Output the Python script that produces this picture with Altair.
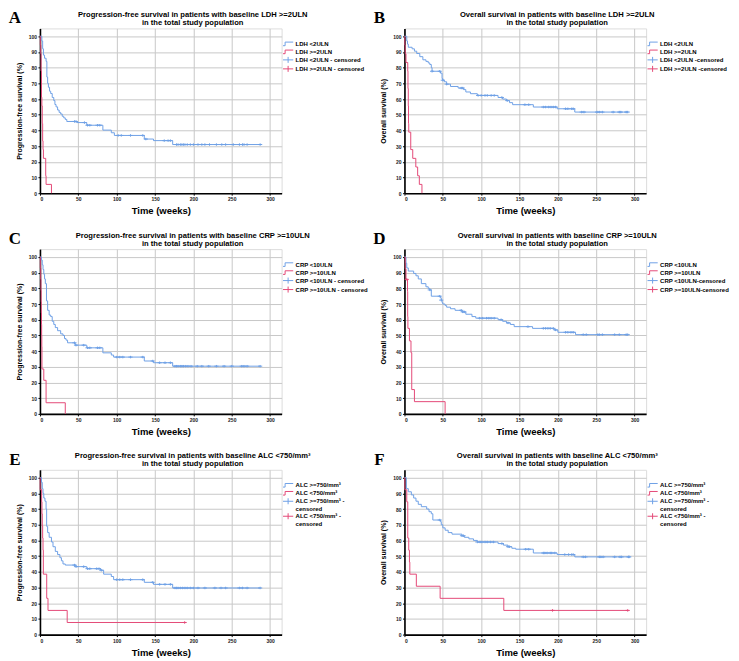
import altair as alt
import pandas as pd

BLUE = "#6FA1E6"
RED = "#E44A78"
STEP = "M-1.7,0.6H-1V-0.6H1.7"
CROSS = "M-1.7,0H1.7M0,-1V1"

# ---------------- Panel A : PFS, LDH ----------------
A_names = ["LDH <2ULN", "LDH >=2ULN", "LDH <2ULN - censored", "LDH >=2ULN - censored"]
A_blue_t = [0, 2.5, 3.5, 4.5, 6, 8, 9, 10, 11, 12.5, 14, 16, 18, 19.5, 21, 23, 25, 27, 29, 31, 33, 35, 48, 61, 82, 93, 97, 136, 148, 173, 287]
A_blue_s = [100, 97, 92, 88, 86, 84, 74, 70, 67.5, 65, 63.5, 61, 59, 56.5, 55, 53, 51.5, 50.5, 49, 48, 47, 45.7, 45, 43.3, 40.2, 38.5, 36.8, 34.5, 33.5, 31, 31]
A_blue_c = [45, 47, 58, 62, 65, 75, 78, 102, 106, 118, 134, 138, 162, 167, 170, 178, 180, 183, 185, 187, 189, 192, 196, 200, 206, 211, 215, 221, 230, 237, 242, 252, 260, 264, 266, 270, 287]
A_red_t = [0, 0.5, 1, 1.5, 2, 2.5, 3, 3.5, 4, 4.5, 7.5, 8, 15]
A_red_s = [100, 94.4, 88.9, 77.8, 61.1, 55.6, 44.4, 33.3, 27.8, 22.2, 11.1, 5.6, 0]
A_red_c = []

# ---------------- Panel B : OS, LDH ----------------
B_names = ["LDH <2ULN", "LDH >=2ULN", "LDH <2ULN -censored", "LDH >=2ULN -censored"]
B_blue_t = [0, 3, 4, 5, 10, 13, 16, 20, 24, 28, 31, 33, 35, 36, 47, 49, 50, 52, 55, 60, 70, 77, 80, 86, 95, 122, 128, 133, 137, 141, 168, 199, 222, 291]
B_blue_s = [100, 97, 95, 93, 92, 90.5, 89, 87, 85, 84, 83, 82, 80, 77.7, 76.5, 73, 72, 71, 69.5, 68, 67, 66, 64.5, 63.4, 62.3, 61, 60, 59, 57.7, 56.4, 54.9, 53.8, 51.7, 51.7]
B_blue_c = [36, 46, 50, 55, 74, 76, 96, 100, 105, 108, 113, 117, 127, 134, 157, 162, 181, 184, 188, 191, 194, 197, 210, 213, 218, 220, 231, 234, 251, 254, 258, 272, 280, 282, 289, 291]
B_red_t = [0, 0.5, 1, 2, 4.3, 4.6, 5, 5.3, 5.6, 8.2, 10.8, 14.8, 17.2, 19.4, 22.8]
B_red_s = [100, 94.4, 88.9, 83.3, 77.8, 66.7, 55.6, 44.4, 38.9, 27.8, 22.2, 16.7, 11.1, 5.6, 0]
B_red_c = []

# ---------------- Panel C : PFS, CRP ----------------
C_names = ["CRP <10ULN", "CRP >=10ULN", "CRP <10ULN - censored", "CRP >=10ULN - censored"]
C_blue_t = [0, 2, 3, 4, 5, 6, 7, 8.5, 10, 12, 14, 16, 18, 20, 23, 27, 30, 32, 34, 36, 46, 61, 82, 93, 96, 136, 148, 173, 287]
C_blue_s = [100, 98, 95, 92, 89, 86, 83, 72, 66, 63, 62, 59, 57, 55, 53, 51, 50, 48, 47, 45.3, 43.8, 42.1, 38.9, 37.5, 36.2, 33.7, 32.6, 30.4, 30.4]
C_blue_c = [45, 47, 57, 62, 65, 75, 78, 100, 104, 108, 118, 134, 147, 156, 163, 170, 176, 178, 180, 183, 185, 187, 190, 193, 197, 205, 211, 220, 230, 240, 250, 263, 266, 270, 287]
C_red_t = [0, 0.5, 1, 1.3, 1.6, 1.8, 2, 2.2, 2.4, 2.6, 5, 8, 33]
C_red_s = [100, 92.9, 85.7, 78.6, 71.4, 64.3, 57.1, 50, 42.9, 28.6, 21.4, 7.1, 0]
C_red_c = []

# ---------------- Panel D : OS, CRP ----------------
D_names = ["CRP <10ULN", "CRP >=10ULN", "CRP <10ULN-censored", "CRP >=10ULN-censored"]
D_blue_t = [0, 2, 3, 5, 12, 15, 18, 22, 28, 31, 33, 35, 47, 48, 49, 50, 53, 55, 60, 66, 75, 80, 88, 93, 122, 128, 133, 138, 143, 167, 195, 200, 223, 291]
D_blue_s = [100, 96, 93, 91, 89.5, 88, 86, 83, 81, 80, 79, 75, 74, 72.5, 71, 70, 69, 68, 67, 66, 65, 63.5, 62, 61, 60, 59, 58, 57, 55.6, 54.5, 53.5, 52, 50.5, 50.5]
D_blue_c = [33, 46, 48, 74, 76, 78, 98, 102, 107, 110, 113, 117, 126, 135, 161, 181, 184, 187, 190, 194, 197, 210, 213, 217, 220, 233, 237, 252, 254, 258, 274, 280, 289, 291]
D_red_t = [0, 1, 2, 4, 4.2, 4.5, 6.5, 8.5, 9.5, 13, 53]
D_red_s = [100, 92.5, 85.7, 78, 62, 54.5, 46.5, 39, 15.5, 7.8, 0]
D_red_c = [3]

# ---------------- Panel E : PFS, ALC ----------------
E_names = ["ALC >=750/mm³", "ALC <750/mm³", "ALC >=750/mm³ -|censored", "ALC <750/mm³ -|censored"]
E_blue_t = [0, 2, 3, 4, 5, 6.5, 8, 8.7, 10, 12, 15, 17, 20, 23, 26, 28, 30, 33, 47, 61, 79, 83, 93, 96, 136, 148, 173, 287]
E_blue_s = [100, 97, 93, 90, 87, 85, 80, 69, 65, 62, 59, 56, 53, 51, 49, 47, 45, 44.3, 43.3, 42, 41, 38.5, 37, 35, 33.3, 32, 29.7, 29.7]
E_blue_c = [45, 47, 57, 62, 65, 74, 77, 80, 100, 104, 108, 118, 134, 147, 156, 163, 170, 176, 178, 180, 183, 186, 189, 192, 196, 200, 206, 215, 228, 236, 242, 260, 264, 270, 287]
E_red_t = [0, 0.3, 2.2, 2.6, 3, 3.5, 4, 4.4, 8.8, 10.5, 35.5, 188.6]
E_red_s = [100, 92.3, 84.6, 76.9, 69.2, 61.5, 53.8, 38.5, 23.1, 15.4, 7.7, 7.7]
E_red_c = [188.6]

# ---------------- Panel F : OS, ALC ----------------
F_names = ["ALC >=750/mm³", "ALC <750/mm³", "ALC >=750/mm³ -|censored", "ALC <750/mm³ -|censored"]
F_blue_t = [0, 2.5, 5, 9, 12, 15, 18, 22, 29, 32, 35, 37, 47, 48, 50, 53, 57, 62, 75, 78, 84, 90, 95, 122, 129, 135, 140, 145, 168, 199, 222, 293]
F_blue_s = [100, 93, 91, 89, 87, 85, 83, 81.5, 80, 78.3, 77, 73, 72, 70, 68, 66.5, 65, 64, 63, 62, 61, 60, 59, 58, 57, 56, 55, 54.4, 52, 51, 49.5, 49.5]
F_blue_c = [46, 75, 77, 95, 98.5, 101, 105, 108, 112, 116, 127, 135, 137, 158, 162, 181, 183, 186, 190, 192, 196, 209, 214, 218, 220, 233, 236, 254, 256, 259, 274, 281, 283, 292, 293]
F_red_t = [0, 0.5, 3, 4.3, 5.6, 6.5, 7, 15.5, 46.5, 129.5, 291]
F_red_s = [100, 92.3, 84.6, 61.5, 53.8, 46.2, 38.5, 30.8, 23.1, 15.4, 15.4]
F_red_c = [193, 291]


def step_value(c, ts, ss):
    val = ss[0]
    for t, s in zip(ts, ss):
        if t <= c:
            val = s
    return val


AXIS_STYLE = dict(
    gridColor="#c8c8c8", gridWidth=1, domainColor="#000", domainWidth=1.6,
    tickColor="#000", tickSize=2, tickWidth=1, labelFontSize=5, labelFont="Liberation Sans",
    labelFontWeight="bold", labelColor="#222", labelPadding=1.5,
    titleFont="Liberation Sans", titleFontWeight="bold", titleColor="#000",
)


def panel(letter, title1, ytitle, names, bt, bs, bc, rt, rs, rc, multiline=False):
    lines = []
    for t, s in zip(bt, bs):
        lines.append({"t": t, "s": s, "series": names[0]})
    for t, s in zip(rt, rs):
        lines.append({"t": t, "s": s, "series": names[1]})
    cens = []
    for c in bc:
        cens.append({"t": c, "s": step_value(c, bt, bs), "series": names[2]})
    for c in rc:
        cens.append({"t": c, "s": step_value(c, rt, rs), "series": names[3]})
    line_df = pd.DataFrame(lines)
    cens_df = pd.DataFrame(cens, columns=["t", "s", "series"])

    cscale = alt.Scale(domain=names, range=[BLUE, RED, BLUE, RED])
    sscale = alt.Scale(domain=names, range=[STEP, STEP, CROSS, CROSS])
    leg_kw = dict(title=None, orient="none", legendX=245, legendY=12,
                  labelFontSize=6, labelFont="Liberation Sans", labelFontWeight="bold",
                  labelColor="#000", symbolSize=36, symbolStrokeWidth=1,
                  rowPadding=-4.5, labelOffset=4, padding=0, labelLimit=300,
                  symbolFillColor="transparent")
    if multiline:
        leg_kw["labelExpr"] = "split(datum.label, '|')"
    legend = alt.Legend(**leg_kw)

    x = alt.X("t:Q", scale=alt.Scale(domain=[0, 315], nice=False, zero=False),
              axis=alt.Axis(values=[0, 50, 100, 150, 200, 250, 300], title="Time (weeks)",
                            titleFontSize=9.5, titlePadding=4, **AXIS_STYLE))
    y = alt.Y("s:Q", scale=alt.Scale(domain=[0, 105], nice=False),
              axis=alt.Axis(values=list(range(0, 101, 10)), title=ytitle,
                            titleFontSize=7, titlePadding=6, **AXIS_STYLE))

    ln = alt.Chart(line_df).mark_line(interpolate="step-after", strokeWidth=1).encode(
        x=x, y=y,
        color=alt.Color("series:N", scale=cscale, legend=legend),
        detail="series:N",
    )
    pt = alt.Chart(cens_df).mark_point(size=6, strokeWidth=1, opacity=1, filled=False).encode(
        x=x, y=y,
        color=alt.Color("series:N", scale=cscale, legend=legend),
        shape=alt.Shape("series:N", scale=sscale, legend=legend),
    )
    lab = alt.Chart(pd.DataFrame({"lab": [letter]})).mark_text(
        font="Liberation Serif", fontWeight="bold", fontSize=17, align="center",
        baseline="alphabetic", color="#000"
    ).encode(text="lab:N", x=alt.value(-25), y=alt.value(-5))

    return alt.layer(ln, pt, lab).properties(
        width=242, height=165,
        title=alt.Title([title1, "in the total study population"], fontSize=7.6,
                        font="Liberation Sans", fontWeight="bold", anchor="middle",
                        frame="group", dx=32, offset=-17, lineHeight=8, color="#000"),
    )


pA = panel("A", "Progression-free survival in patients with baseline LDH >=2ULN",
           "Progression-free survival (%)", A_names, A_blue_t, A_blue_s, A_blue_c, A_red_t, A_red_s, A_red_c)
pB = panel("B", "Overall survival in patients with baseline LDH >=2ULN",
           "Overall survival (%)", B_names, B_blue_t, B_blue_s, B_blue_c, B_red_t, B_red_s, B_red_c)
pC = panel("C", "Progression-free survival in patients with baseline CRP >=10ULN",
           "Progression-free survival (%)", C_names, C_blue_t, C_blue_s, C_blue_c, C_red_t, C_red_s, C_red_c)
pD = panel("D", "Overall survival in patients with baseline CRP >=10ULN",
           "Overall survival (%)", D_names, D_blue_t, D_blue_s, D_blue_c, D_red_t, D_red_s, D_red_c)
pE = panel("E", "Progression-free survival in patients with baseline ALC <750/mm³",
           "Progression-free survival (%)", E_names, E_blue_t, E_blue_s, E_blue_c, E_red_t, E_red_s, E_red_c, True)
pF = panel("F", "Overall survival in patients with baseline ALC <750/mm³",
           "Overall survival (%)", F_names, F_blue_t, F_blue_s, F_blue_c, F_red_t, F_red_s, F_red_c, True)

chart = alt.concat(pA, pB, pC, pD, pE, pF, columns=2,
                   spacing={"row": 56, "column": 123}, bounds="flush").resolve_scale(
    color="independent", shape="independent", x="independent", y="independent"
).properties(
    padding={"left": 0, "top": 0, "right": 0, "bottom": 0}
).configure_view(stroke=None).configure_axis(**AXIS_STYLE).configure(background="white")

chart.save("out.html", embed_options={"renderer": "svg", "actions": False})
